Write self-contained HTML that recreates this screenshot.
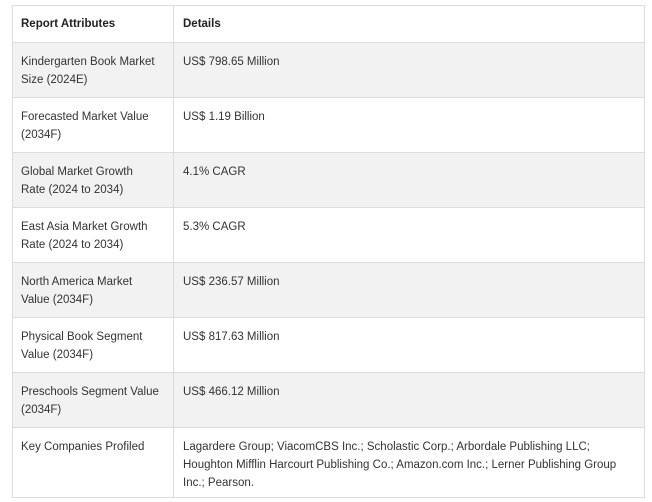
<!DOCTYPE html>
<html><head><style>
body{margin:0;background:#fff;width:652px;height:502px;overflow:hidden;font-family:"Liberation Sans",sans-serif;font-size:11.5px;color:#333;}
.t{position:absolute;left:12px;top:5px;width:633px;height:493px;border:1px solid #dcdcdc;box-sizing:border-box;}
.r{position:absolute;left:0;width:631px;border-top:1px solid #dcdcdc;box-sizing:border-box;}
.g{background:#f2f2f2;}
.c1,.c2{position:absolute;top:0;line-height:18px;padding-top:10px;}
.c1{left:8px;width:138px;}
.c2{left:170px;width:455px;}
.v{position:absolute;left:160px;top:0;bottom:0;border-left:1px solid #dcdcdc;}
b{font-weight:bold;color:#222;}
</style></head><body>
<div class="t">
<div class="r" style="top:0;height:36px;border-top:none"><div class="c1" style="padding-top:9px"><b>Report Attributes</b></div><div class="c2" style="padding-top:9px"><b>Details</b></div></div>
<div class="r g" style="top:36px;height:55px"><div class="c1">Kindergarten Book Market Size (2024E)</div><div class="c2">US$ 798.65 Million</div></div>
<div class="r" style="top:91px;height:55px"><div class="c1">Forecasted Market Value (2034F)</div><div class="c2">US$ 1.19 Billion</div></div>
<div class="r g" style="top:146px;height:55px"><div class="c1">Global Market Growth Rate (2024 to 2034)</div><div class="c2">4.1% CAGR</div></div>
<div class="r" style="top:201px;height:55px"><div class="c1">East Asia Market Growth Rate (2024 to 2034)</div><div class="c2">5.3% CAGR</div></div>
<div class="r g" style="top:256px;height:55px"><div class="c1">North America Market Value (2034F)</div><div class="c2">US$ 236.57 Million</div></div>
<div class="r" style="top:311px;height:55px"><div class="c1">Physical Book Segment Value (2034F)</div><div class="c2">US$ 817.63 Million</div></div>
<div class="r g" style="top:366px;height:55px"><div class="c1">Preschools Segment Value (2034F)</div><div class="c2">US$ 466.12 Million</div></div>
<div class="r" style="top:421px;height:71px"><div class="c1">Key Companies Profiled</div><div class="c2">Lagardere Group; ViacomCBS Inc.; Scholastic Corp.; Arbordale Publishing LLC; Houghton Mifflin Harcourt Publishing Co.; Amazon.com Inc.; Lerner Publishing Group Inc.; Pearson.</div></div>
<div class="v"></div>
</div>
</body></html>
